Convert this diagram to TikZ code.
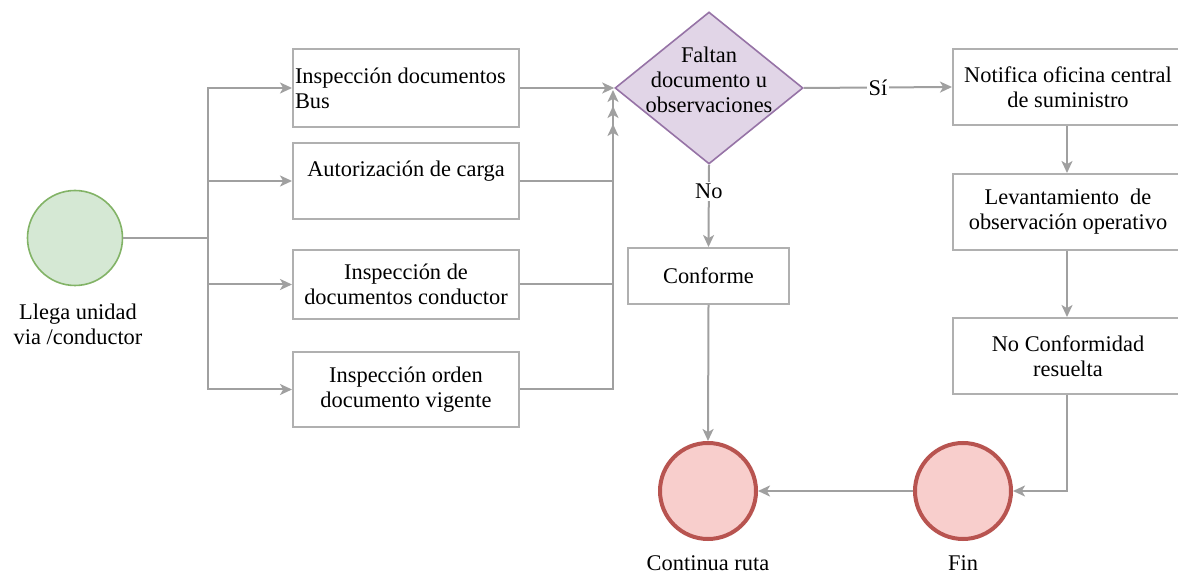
\documentclass[tikz,border=0pt]{standalone}
\usepackage{fontspec}
\setmainfont{Liberation Serif}
\usetikzlibrary{arrows.meta,shapes.geometric}
\definecolor{edgegray}{HTML}{A0A0A0}
\definecolor{boxgray}{HTML}{B0B0B0}
\definecolor{gfill}{HTML}{D5E8D4}
\definecolor{gline}{HTML}{82B366}
\definecolor{rfill}{HTML}{F8CECC}
\definecolor{rline}{HTML}{B85450}
\definecolor{pfill}{HTML}{E1D5E7}
\definecolor{pline}{HTML}{9673A6}
\tikzset{
  txt/.style={font=\fontsize{11.2}{12.5}\selectfont, align=center, inner sep=0pt, text=black},
  box/.style={txt, draw=boxgray, line width=1pt, fill=white, minimum width=113pt},
  conn/.style={draw=edgegray, line width=1pt},
  arr/.style={conn, -{Stealth[length=6pt,width=5.5pt,inset=1.6pt]}, color=edgegray},
  startc/.style={circle, draw=gline, fill=gfill, line width=0.8pt, minimum size=47.5pt, inner sep=0pt},
  endc/.style={circle, draw=rline, fill=rfill, line width=2pt, minimum size=48pt, inner sep=0pt},
  dec/.style={diamond, draw=pline, fill=pfill, line width=0.8pt, minimum width=94pt, minimum height=76pt, inner sep=0pt},
  lbl/.style={txt, fill=white, inner sep=1pt, text=black}
}
\begin{document}
\begin{tikzpicture}[x=0.5pt, y=-0.5pt]
\clip (0,0) rectangle (1178,576);
\fill[white] (0,0) rectangle (1178,576);

% start
\node[startc] (start) at (75,238) {};
\node[txt] (startl) at (78,324) {Llega unidad\\via /conductor};

% left boxes
\node[box, minimum height=39pt, align=left] (b1) at (406,88) {\makebox[111pt][l]{Inspección documentos}\\Bus};
\node[box, minimum height=38pt] (b2) at (406,181) {Autorización de carga\\\mbox{}};
\node[box, minimum height=34.5pt] (b3) at (406,284.5) {Inspección de\\documentos conductor};
\node[box, minimum height=37.5pt] (b4) at (406,389.5) {Inspección orden\\documento vigente};

% decision
\node[dec] (d) at (709,88) {};
\node[txt] (dt) at (709,80) {Faltan\\documento u\\observaciones};

% conforme
\node[box, minimum width=80.5pt, minimum height=28pt] (conf) at (708.5,276) {Conforme};

% right column
\node[box, minimum width=115pt, minimum height=38pt] (r1) at (1068,87) {Notifica oficina central\\de suministro};
\node[box, minimum width=115pt, minimum height=38pt] (r2) at (1068,212) {Levantamiento\ \ de\\observación operativo};
\node[box, minimum width=115pt, minimum height=38pt] (r3) at (1068,356) {No Conformidad\\resuelta};

% end circles
\node[endc] (cont) at (708,491) {};
\node[txt] (contl) at (708,563) {Continua ruta};
\node[endc] (fin) at (963,491) {};
\node[txt] (finl) at (963,563) {Fin};

% junction and fan-out
\coordinate (j) at (208,238);
\draw[conn] (start.east) -- (j);
\draw[arr] (j) |- (b1.west);
\draw[arr] (j) |- (b2.west);
\draw[arr] (j) |- (b3.west);
\draw[arr] (j) |- (b4.west);

% fan-in to decision
\coordinate (t2) at (613,124);
\coordinate (t3) at (613,106);
\coordinate (t4) at (613,90);
\draw[arr] (b1.east) -- (d.west);
\draw[arr] (b2.east) -| (t2);
\draw[arr] (b3.east) -| (t3);
\draw[arr] (b4.east) -| (t4);

% decision outputs
\draw[arr] (d.east) -- node[lbl] (si) {Sí} (r1.west);
\draw[arr] (d.south) -- node[lbl, pos=0.32] (no) {No} (conf.north);

% right column chain
\draw[arr] (r1.south -| 1067,0) -- (r2.north -| 1067,0);
\draw[arr] (r2.south -| 1067,0) -- (r3.north -| 1067,0);
\draw[arr] (r3.south -| 1067,0) |- (fin.east);

% to ends
\draw[arr] (conf.south) -- (cont.north);
\draw[arr] (fin.west) -- (cont.east);
\end{tikzpicture}
\end{document}
